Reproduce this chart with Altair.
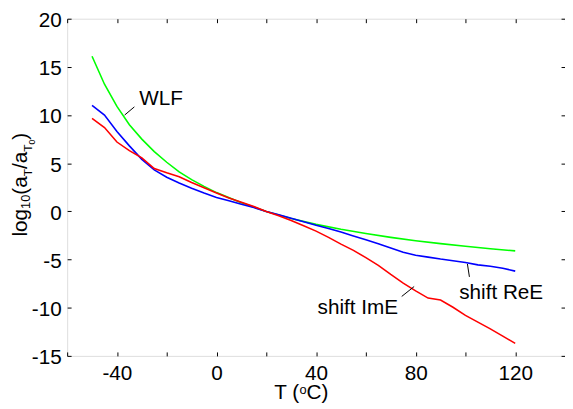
import altair as alt
import pandas as pd

FONT = "Liberation Sans"
FS = 21

# ---- data ----
T_wlf = [-50, -45, -40, -35, -30, -25, -20, -15, -10, -5, 0, 10, 20, 30, 40, 50, 60, 70, 80, 90, 100, 110, 120]
v_wlf = [16.1, 13.2, 10.9, 9.0, 7.5, 6.2, 5.1, 4.1, 3.3, 2.6, 1.95, 0.9, 0.0, -0.73, -1.35, -1.86, -2.3, -2.7,
         -3.05, -3.35, -3.62, -3.87, -4.1]

T_grid = [-50, -45, -40, -35, -30, -25, -20, -15, -10, -5, 0, 5, 10, 15, 20, 25, 30, 35, 40, 45, 50, 55, 60,
          65, 70, 75, 80, 85, 90, 95, 100, 105, 110, 115, 120]
v_re = [11.0, 10.0, 8.3, 6.8, 5.4, 4.3, 3.55, 2.95, 2.4, 1.9, 1.45, 1.1, 0.75, 0.4, 0.0, -0.35, -0.72, -1.08,
        -1.45, -1.78, -2.15, -2.55, -2.95, -3.35, -3.8, -4.25, -4.55, -4.75, -4.95, -5.12, -5.3, -5.55, -5.7,
        -5.9, -6.2]
v_im = [9.65, 8.7, 7.2, 6.3, 5.55, 4.45, 4.0, 3.6, 3.0, 2.45, 1.9, 1.4, 0.95, 0.5, 0.0, -0.45, -0.95, -1.5,
        -2.05, -2.7, -3.4, -4.05, -4.8, -5.6, -6.55, -7.45, -8.25, -9.0, -9.2, -9.95, -10.8, -11.5, -12.2,
        -12.95, -13.7]

series_names = ["WLF", "shift ReE", "shift ImE"]
series_colors = ["#00ff00", "#0000ff", "#ff0000"]

x_ticks = [-60, -40, -20, 0, 20, 40, 60, 80, 100, 120, 140]
x_labels = [-40, 0, 40, 80, 120]
y_ticks = [-15, -10, -5, 0, 5, 10, 15, 20]

ann_text = ["WLF", "shift ReE", "shift ImE"]
ann_T = [-31, 97.5, 40.6]
ann_v = [11.05, -9.1, -10.7]
lead_T = [-36.9, 100.8, 74.4]
lead_v = [10.0, -5.46, -8.83]
lead_T2 = [-33.0, 101.6, 79.4]
lead_v2 = [10.85, -6.8, -7.8]

rows = []
for t, v in zip(T_wlf, v_wlf):
    rows.append({"T": t, "v": v, "s": "WLF"})
for t, v in zip(T_grid, v_re):
    rows.append({"T": t, "v": v, "s": "shift ReE"})
for t, v in zip(T_grid, v_im):
    rows.append({"T": t, "v": v, "s": "shift ImE"})
df = pd.DataFrame(rows)

ann_df = pd.DataFrame({"T": ann_T, "v": ann_v, "label": ann_text})
lead_df = pd.DataFrame({"T": lead_T, "v": lead_v, "T2": lead_T2, "v2": lead_v2})

W, H = 505, 342
xs = alt.Scale(domain=[-60, 140], nice=False, zero=False)
ys = alt.Scale(domain=[-15, 20], nice=False, zero=False)


def ax(**kw):
    base = dict(title=None, grid=False, domain=False, labelFont=FONT, labelFontSize=FS, labelColor="black",
                tickColor="black", labelFlush=False, labelOverlap=False, labelExpr="datum.value + ''")
    base.update(kw)
    return alt.Axis(**base)


# visible lines with labelled axes (no ticks)
lines = alt.Chart(df).mark_line(strokeWidth=1.6).encode(
    x=alt.X("T:Q", scale=xs, axis=ax(orient="bottom", values=x_labels, ticks=False, labelPadding=7)),
    y=alt.Y("v:Q", scale=ys, axis=ax(orient="left", values=y_ticks, ticks=False, labelPadding=6,
                                     labelOffset=2)),
    color=alt.Color("s:N", scale=alt.Scale(domain=series_names, range=series_colors), legend=None),
    detail="s:N",
)

# inward ticks, bottom/left
ticks_bl = alt.Chart(df).mark_line(opacity=0).encode(
    x=alt.X("T:Q", scale=xs, axis=ax(orient="bottom", values=x_ticks, labels=False, tickSize=4, offset=-4)),
    y=alt.Y("v:Q", scale=ys, axis=ax(orient="left", values=y_ticks, labels=False, tickSize=4, offset=-4)),
    detail="s:N",
)
# inward ticks, top/right
ticks_tr = alt.Chart(df).mark_line(opacity=0).encode(
    x=alt.X("T:Q", scale=xs, axis=ax(orient="top", values=x_ticks, labels=False, tickSize=4, offset=-4)),
    y=alt.Y("v:Q", scale=ys, axis=ax(orient="right", values=y_ticks, labels=False, tickSize=4, offset=-4)),
    detail="s:N",
)

ann = alt.Chart(ann_df).mark_text(font=FONT, fontSize=FS, align="left", baseline="alphabetic",
                                  color="black").encode(
    x=alt.X("T:Q", scale=xs, axis=None), y=alt.Y("v:Q", scale=ys, axis=None), text="label:N")

leads = alt.Chart(lead_df).mark_rule(color="black", strokeWidth=1).encode(
    x=alt.X("T:Q", scale=xs, axis=None), y=alt.Y("v:Q", scale=ys, axis=None), x2="T2:Q", y2="v2:Q")


def piece(text, size, x, y, angle=0, dx=0.0, dy=0.0):
    kw = dict(text=text, font=FONT, fontSize=size, align="left", baseline="alphabetic", color="black",
              dx=dx, dy=dy)
    if angle:
        kw["angle"] = angle
    return alt.Chart(alt.Data(values=[{"k": 0}])).mark_text(**kw).encode(
        x=alt.value(x), y=alt.value(y))


# y-axis title: log10(aT/aT0)
YX, YY = -41, 221
ypieces = [("log", FS, 0), ("10", 13, 3), ("(a", FS, 0), ("T", 12, 5), ("/a", FS, 0), ("T", 12, 5),
           ("0", 9, 8), (")", FS, 0)]
ywidths = {"log": 1.334, "10": 1.112, "(a": 0.889, "T": 0.611, "/a": 0.834, "0": 0.556, ")": 0.333}
ytitle = []
adv = 0.0
for txt, size, low in ypieces:
    ytitle.append(piece(txt, size, YX, YY, angle=270, dx=adv, dy=low))
    adv += ywidths[txt] * size

# x-axis title: T (oC)
XX, XY = 210, 385.5
xtitle = [
    piece("T (", FS, XX, XY),
    piece("o", 13, XX + (0.611 + 0.278 + 0.333) * FS, XY - 5),
    piece("C)", FS, XX + (0.611 + 0.278 + 0.333) * FS + 0.556 * 13, XY),
]

chart = alt.layer(lines, ticks_bl, ticks_tr, leads, ann, *ytitle, *xtitle).resolve_axis(
    x="independent", y="independent"
).properties(
    width=W, height=H,
    autosize=alt.AutoSizeParams(type="none"),
    padding={"left": 60, "top": 8, "right": 0, "bottom": 51},
).configure_view(stroke="black", strokeWidth=1).configure(background="white")

chart.save("out.html", embed_options={"renderer": "svg", "actions": False})
